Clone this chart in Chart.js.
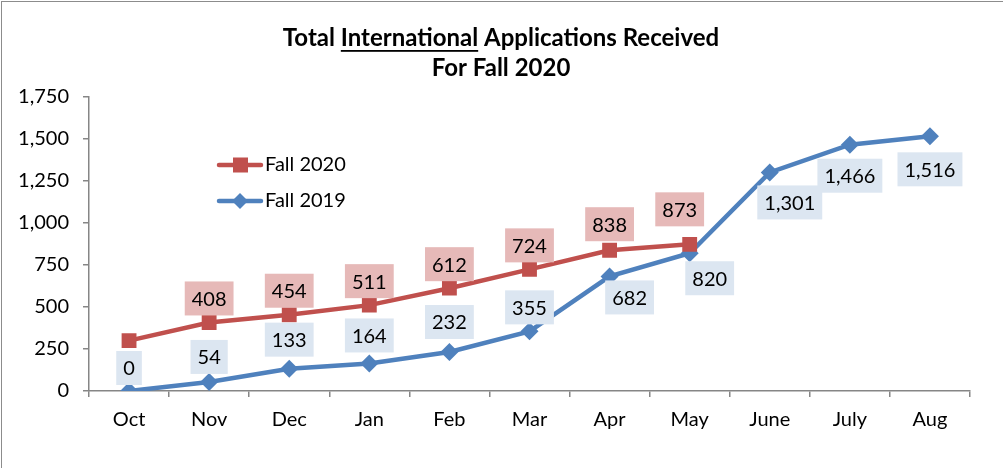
<!DOCTYPE html>
<html>
<head>
<meta charset="utf-8">
<script src="https://cdn.jsdelivr.net/npm/chart.js@4/dist/chart.umd.min.js"></script>
<style>
  html, body { margin: 0; padding: 0; background: #fff; }
  canvas { display: block; }
</style>
</head>
<body>
<canvas id="chartApps" width="1003" height="468"></canvas>
<script>
const months = ['Oct', 'Nov', 'Dec', 'Jan', 'Feb', 'Mar', 'Apr', 'May', 'June', 'July', 'Aug'];
const fall2020 = [300, 408, 454, 511, 612, 724, 838, 873, null, null, null];
const fall2019 = [0, 54, 133, 164, 232, 355, 682, 820, 1301, 1466, 1516];
const yTicks = [0, 250, 500, 750, 1000, 1250, 1500, 1750];
// label shown for each point (Oct of Fall 2020 has none in the original)
const showLabel2020 = [false, true, true, true, true, true, true, true, false, false, false];

const FONT = 'Lato, "Open Sans", sans-serif';
const RED = '#c0504d';
const BLUE = '#4f81bd';

// where each data label sits relative to its point (px)
const offs2020 = [[0, -40], [0, -24], [0, -24], [0, -24], [0, -24], [0, -24], [0, -26], [-10, -35]];
const offs2019 = [[0, -23], [0, -25], [0, -29], [0, -28], [0, -30], [0, -24], [20, 21], [20, 25], [20, 30], [0, 31], [0, 33]];

function fmt(v) { return v.toLocaleString('en-US'); }

const frame = {
  id: 'frame',
  beforeDraw(chart) {
    const c = chart.ctx;
    c.save();
    c.fillStyle = '#fff';
    c.fillRect(0, 0, chart.width, chart.height);
    c.strokeStyle = '#8c8c8c';
    c.lineWidth = 1;
    c.strokeRect(1.5, 1.5, chart.width + 5, chart.height + 5);
    c.restore();
  }
};

const titleDraw = {
  id: 'titleDraw',
  afterDraw(chart) {
    const c = chart.ctx;
    c.save();
    c.font = 'bold 24px ' + FONT;
    c.fillStyle = '#000';
    c.textBaseline = 'middle';
    const parts = ['Total ', 'International', ' Applications Received'];
    const w = parts.map(p => c.measureText(p).width);
    let x = 501 - (w[0] + w[1] + w[2]) / 2;
    const y = 38;
    parts.forEach((p, i) => {
      c.textAlign = 'left';
      c.fillText(p, x, y);
      if (i === 1) {
        c.fillRect(x, y + 12, w[i], 1.8);
      }
      x += w[i];
    });
    c.textAlign = 'center';
    c.fillText('For Fall 2020', 501, 68);
    c.restore();
  }
};

const legendDraw = {
  id: 'legendDraw',
  afterDraw(chart) {
    const c = chart.ctx;
    const items = [
      { text: 'Fall 2020', color: RED, shape: 'square', y: 165 },
      { text: 'Fall 2019', color: BLUE, shape: 'diamond', y: 201 }
    ];
    c.save();
    items.forEach(it => {
      c.strokeStyle = it.color;
      c.lineWidth = 4.5;
      c.lineCap = 'round';
      c.beginPath();
      c.moveTo(219, it.y);
      c.lineTo(261, it.y);
      c.stroke();
      c.fillStyle = it.color;
      if (it.shape === 'square') {
        c.fillRect(233, it.y - 7.5, 15, 15);
      } else {
        c.beginPath();
        c.moveTo(240, it.y - 8);
        c.lineTo(248, it.y);
        c.lineTo(240, it.y + 8);
        c.lineTo(232, it.y);
        c.closePath();
        c.fill();
      }
      c.fillStyle = '#000';
      c.font = '20px ' + FONT;
      c.textAlign = 'left';
      c.textBaseline = 'middle';
      c.fillText(it.text, 265, it.y);
    });
    c.restore();
  }
};

const boxLabels = {
  id: 'boxLabels',
  afterDatasetsDraw(chart) {
    const c = chart.ctx;
    c.save();
    c.font = '20px ' + FONT;
    c.textAlign = 'center';
    c.textBaseline = 'middle';
    const sets = [
      { idx: 1, data: fall2019, offs: offs2019, bg: '#dce6f1', show: fall2019.map(() => true) },
      { idx: 0, data: fall2020, offs: offs2020, bg: '#e6b9b8', show: showLabel2020 }
    ];
    sets.forEach(s => {
      const meta = chart.getDatasetMeta(s.idx);
      meta.data.forEach((pt, i) => {
        const v = s.data[i];
        if (v == null || !s.show[i]) return;
        const [dx, dy] = s.offs[i];
        const txt = fmt(v);
        const tw = c.measureText(txt).width;
        const bw = tw + 14, bh = 34;
        const cx = pt.x + dx, cy = pt.y + dy;
        c.fillStyle = s.bg;
        c.fillRect(cx - bw / 2, cy - bh / 2, bw, bh);
        c.fillStyle = '#000';
        c.fillText(txt, cx, cy + 1);
      });
    });
    c.restore();
  }
};

new Chart(document.getElementById('chartApps').getContext('2d'), {
  type: 'line',
  data: {
    labels: months,
    datasets: [
      {
        label: 'Fall 2020', data: fall2020, borderColor: RED, backgroundColor: RED,
        borderWidth: 4.5, pointStyle: 'rect', pointRadius: 10.5, pointHoverRadius: 10.5,
        pointBorderWidth: 0, tension: 0, spanGaps: false
      },
      {
        label: 'Fall 2019', data: fall2019, borderColor: BLUE, backgroundColor: BLUE,
        borderWidth: 4.5, pointStyle: 'rectRot', pointRadius: 9, pointHoverRadius: 9,
        pointBorderWidth: 0, tension: 0
      }
    ]
  },
  options: {
    responsive: false,
    animation: false,
    layout: { padding: { top: 97, right: 33, left: 0, bottom: 0 } },
    plugins: { legend: { display: false }, title: { display: false }, tooltip: { enabled: false } },
    scales: {
      x: {
        offset: true,
        grid: { display: true, drawOnChartArea: false, offset: true, color: '#868686', tickLength: 6, lineWidth: 1.5 },
        border: { color: '#868686', width: 1.5 },
        ticks: { color: '#000', font: { family: FONT, size: 20 }, padding: 11 },
        afterFit(scale) { scale.height = 77; }
      },
      y: {
        min: 0, max: 1750,
        afterBuildTicks(scale) { scale.ticks = yTicks.map(v => ({ value: v })); },
        grid: { display: true, drawOnChartArea: false, color: '#868686', tickLength: 6, lineWidth: 1.5 },
        border: { color: '#868686', width: 1.5 },
        ticks: { color: '#000', font: { family: FONT, size: 20 }, padding: 14, callback: v => fmt(v) },
        afterFit(scale) { scale.width = 89; }
      }
    }
  },
  plugins: [frame, boxLabels, legendDraw, titleDraw]
});
</script>
</body>
</html>
